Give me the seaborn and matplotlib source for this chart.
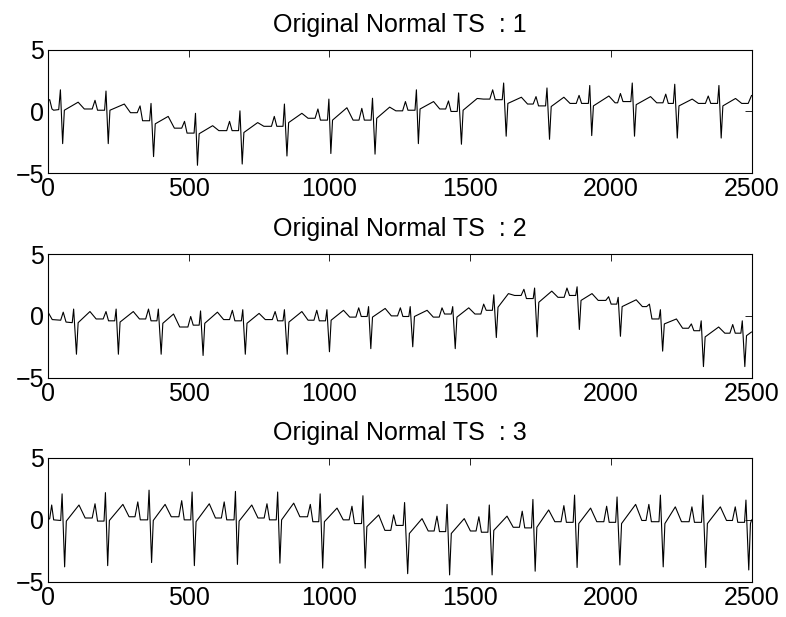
import numpy as np
import pandas as pd
import seaborn as sns
import matplotlib.pyplot as plt

# values: per beat R peak, S trough, level after S,
# T wave, baseline after T, P wave, level before the next R
p1_start = [(0, 0.9), (6, 0.95), (14, 0.2), (20, 0.1), (38, 0.15)]
p1_r_x = [44, 206, 366, 524, 682, 840, 998, 1153, 1309, 1459, 1619, 1773, 1925, 2076, 2227, 2384]
p1_r_y = [1.75, 1.65, 0.65, -0.15, 0.05, 0.6, 1.0, 1.07, 1.75, 1.5, 2.3, 1.9, 2.1, 2.3, 2.2, 2.1]
p1_s_x = [52, 214, 375, 531, 690, 849, 1005, 1162, 1316, 1469, 1628, 1782, 1932, 2084, 2236, 2392]
p1_s_y = [-2.6, -2.6, -3.65, -4.35, -4.25, -3.6, -3.4, -3.45, -2.6, -2.65, -2.0, -2.25, -1.95, -2.0, -2.15, -2.15]
p1_after = [0.1, 0.1, -1.0, -1.8, -1.7, -0.9, -0.7, -0.55, 0.2, 0.1, 0.65, 0.4, 0.45, 0.55, 0.45, 0.45]
p1_t_x = [107, 271, 427, 585, 745, 902, 1062, 1214, 1370, 1525, 1682, 1833, 1993, 2141, 2289, 2443]
p1_t_y = [0.75, 0.6, -0.4, -1.15, -0.9, -0.15, 0.3, 0.35, 0.8, 1.05, 1.15, 1.15, 1.25, 1.2, 1.0, 1.05]
p1_mid = [0.2, -0.1, -1.35, -1.55, -1.2, -0.55, -0.7, 0.05, 0.2, 1.0, 0.6, 0.65, 0.7, 0.7, 0.65, 0.65]
p1_p_x = [167, 327, 485, 645, 804, 959, 1115, 1270, 1423, 1580, 1734, 1887, 2034, 2195, 2346]
p1_p_y = [0.9, 0.45, -0.8, -0.8, -0.4, 0.2, 0.25, 0.8, 0.85, 1.75, 1.2, 1.3, 1.45, 1.4, 1.25]
p1_pre = [0.1, -0.75, -1.75, -1.55, -1.2, -0.7, -0.7, 0.1, 0.0, 0.95, 0.45, 0.65, 0.8, 0.65, 0.65]
p1_end = [(2488, 0.65), (2500, 1.3)]

p2_start = [(0, 0.3), (15, -0.3), (45, -0.35), (54, 0.3), (64, -0.5), (86, -0.55)]
p2_r_x = [91, 242, 392, 542, 692, 840, 991, 1139, 1287, 1438, 1584, 1729, 1880, 2026, 2176, 2321, 2467]
p2_r_y = [0.55, 0.55, 0.55, 0.4, 0.5, 0.5, 0.5, 0.75, 0.75, 0.75, 1.7, 2.25, 2.35, 1.5, 0.5, -0.4, -0.4]
p2_s_x = [101, 250, 402, 551, 701, 850, 1000, 1147, 1296, 1447, 1593, 1738, 1888, 2034, 2184, 2329, 2476]
p2_s_y = [-3.1, -3.1, -3.1, -3.2, -3.1, -3.1, -2.9, -2.65, -2.5, -2.65, -1.75, -1.7, -1.1, -1.65, -2.85, -4.1, -4.1]
p2_after = [-0.55, -0.5, -0.6, -0.6, -0.6, -0.5, -0.35, -0.1, -0.05, -0.1, 0.7, 1.1, 1.25, 0.75, -0.65, -1.7, -1.6]
p2_t_x = [149, 303, 446, 602, 750, 902, 1050, 1198, 1347, 1495, 1636, 1790, 1933, 2090, 2233, 2383]
p2_t_y = [0.35, 0.35, 0.15, 0.3, 0.2, 0.35, 0.45, 0.6, 0.45, 0.65, 1.8, 2.0, 1.8, 1.3, -0.25, -0.9]
p2_mid = [-0.25, -0.25, -0.9, -0.3, -0.3, -0.35, -0.1, 0.0, -0.1, 0.15, 1.65, 1.5, 1.25, 0.75, -1.0, -1.4]
p2_p_x = [206, 357, 507, 655, 807, 955, 1104, 1252, 1400, 1548, 1691, 1844, 1992, 2137, 2286, 2433]
p2_p_y = [0.35, 0.55, -0.05, 0.45, 0.35, 0.45, 0.65, 0.65, 0.65, 0.95, 2.15, 2.25, 1.55, 0.95, -0.65, -0.7]
p2_pre = [-0.4, -0.4, -0.75, -0.4, -0.4, -0.4, -0.05, -0.05, 0.15, 0.45, 1.4, 1.65, 0.95, -0.25, -1.2, -1.4]
p2_end = [(2500, -1.3)]

p3_start = [(0, 0.0), (6, 0.1), (13, 1.2), (20, 0.0), (45, -0.05)]
p3_r_x = [50, 204, 359, 512, 666, 816, 967, 1119, 1267, 1418, 1568, 1723, 1871, 2022, 2176, 2327, 2480]
p3_r_y = [2.1, 2.2, 2.4, 2.25, 2.3, 2.25, 2.1, 1.95, 1.4, 1.25, 1.2, 1.65, 2.0, 1.85, 2.0, 2.0, 1.6]
p3_s_x = [59, 212, 368, 520, 673, 824, 976, 1127, 1278, 1427, 1578, 1731, 1880, 2032, 2186, 2337, 2490]
p3_s_y = [-3.8, -3.7, -3.45, -3.7, -3.6, -3.5, -3.9, -3.9, -4.35, -4.45, -4.45, -4.15, -3.85, -3.65, -3.8, -3.85, -4.05]
p3_after = [-0.1, -0.05, -0.05, -0.15, -0.1, 0.0, -0.15, -0.55, -1.1, -1.1, -0.85, -0.6, -0.3, -0.3, -0.3, -0.3, -0.3]
p3_t_x = [110, 266, 416, 573, 724, 873, 1027, 1175, 1329, 1479, 1631, 1779, 1928, 2088, 2229, 2389]
p3_t_y = [1.2, 1.25, 1.25, 1.3, 1.2, 1.35, 0.95, 0.4, 0.1, 0.1, 0.3, 0.8, 0.95, 1.25, 1.05, 1.05]
p3_mid = [0.15, 0.25, 0.25, 0.15, 0.15, 0.25, 0.0, -0.85, -0.9, -0.9, -0.6, -0.15, -0.15, -0.05, -0.15, -0.05]
p3_p_x = [167, 319, 475, 626, 778, 932, 1080, 1228, 1382, 1531, 1685, 1833, 1985, 2135, 2288, 2442]
p3_p_y = [1.3, 1.45, 1.55, 1.45, 1.3, 1.25, 1.1, 0.4, 0.3, 0.25, 0.7, 1.15, 1.1, 1.25, 1.05, 1.05]
p3_pre = [-0.1, 0.0, 0.0, 0.0, 0.0, -0.15, -0.3, -0.45, -0.95, -1.0, -0.65, -0.2, -0.2, -0.15, -0.2, -0.2]
p3_end = [(2500, 0.0)]

titles = ['Original Normal TS  : 1', 'Original Normal TS  : 2', 'Original Normal TS  : 3']
x_ticks = [0, 500, 1000, 1500, 2000, 2500]
y_ticks = [-5, 0, 5]


def trace(start, r_x, r_y, s_x, s_y, after, t_x, t_y, mid, p_x, p_y, pre, end):
    pts = list(start)
    for i in range(len(r_x)):
        pts += [(r_x[i], r_y[i]), (s_x[i], s_y[i]), (s_x[i] + 6, after[i])]
        if i < len(t_x):
            pts += [(t_x[i], t_y[i]), (t_x[i] + 22, mid[i])]
        if i < len(p_x):
            pts += [(p_x[i] - 10, mid[i]), (p_x[i], p_y[i]),
                    (p_x[i] + 9, pre[i]), (r_x[i + 1] - 5, pre[i])]
    pts += end
    return pd.DataFrame(pts, columns=['t', 'v'])


series = [
    trace(p1_start, p1_r_x, p1_r_y, p1_s_x, p1_s_y, p1_after, p1_t_x, p1_t_y, p1_mid, p1_p_x, p1_p_y, p1_pre, p1_end),
    trace(p2_start, p2_r_x, p2_r_y, p2_s_x, p2_s_y, p2_after, p2_t_x, p2_t_y, p2_mid, p2_p_x, p2_p_y, p2_pre, p2_end),
    trace(p3_start, p3_r_x, p3_r_y, p3_s_x, p3_s_y, p3_after, p3_t_x, p3_t_y, p3_mid, p3_p_x, p3_p_y, p3_pre, p3_end),
]

sns.set_style('white')
plt.rcParams['font.family'] = ['Liberation Sans', 'DejaVu Sans']
plt.rcParams['font.size'] = 18
plt.rcParams['text.color'] = 'black'
plt.rcParams['xtick.color'] = 'black'
plt.rcParams['ytick.color'] = 'black'

fig = plt.figure(figsize=(7.86, 6.17), dpi=100)
bottoms = [0.7191, 0.3878, 0.0572]
for k in range(3):
    ax = fig.add_axes([0.0611, bottoms[k], 0.8951, 0.2005])
    sns.lineplot(data=series[k], x='t', y='v', ax=ax, color='black', lw=0.8,
                 estimator=None, sort=False)
    ax.set_xlim(0, 2500)
    ax.set_ylim(-5, 5)
    ax.set_xticks(x_ticks)
    ax.set_yticks(y_ticks)
    ax.set_xlabel('')
    ax.set_ylabel('')
    ax.set_title(titles[k], fontsize=18, pad=13, color='black')
    ax.tick_params(direction='in', length=5, width=0.6, top=True, right=True,
                   labelsize=18, pad=3, colors='black')
    for sp in ax.spines.values():
        sp.set_linewidth(0.8)
        sp.set_color('black')

plt.savefig('out.png', dpi=100)
